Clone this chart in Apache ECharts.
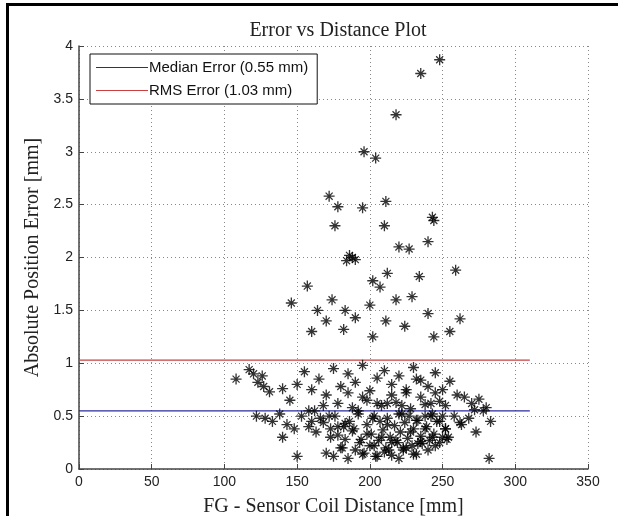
<!DOCTYPE html>
<html><head><meta charset="utf-8">
<script src="https://cdn.jsdelivr.net/npm/echarts@6/dist/echarts.min.js"></script>
<style>html,body{margin:0;padding:0;background:#fff}#c{width:618px;height:516px}</style>
</head><body><div id="c"></div>
<script>
const titleText = 'Error vs Distance Plot';
const xAxisName = 'FG - Sensor Coil Distance [mm]';
const yAxisName = 'Absolute Position Error [mm]';
const xTicks = [0, 350, 50];
const yTicks = [0, 4, 0.5];
const medianError = 0.55;
const rmsError = 1.03;
const lineXRange = [0, 310];
const distX = [248,235,218,196,204,172,211,178,195,176,243,244,210,259,220,227,240,186,190,184,188,234,212,202,207,157,146,218,174,200,229,164,183,240,262,170,190,211,224,160,182,244,255,202,
108,117,120,126,123,127,131,140,145,150,155,160,165,170,175,180,185,190,195,200,205,210,215,220,225,230,235,240,245,250,255,260,265,270,275,280,
122,128,133,138,143,148,153,158,163,168,173,178,183,188,193,198,203,208,213,218,223,228,233,238,243,248,253,258,263,268,273,278,283,
170,175,180,185,190,195,200,205,210,215,220,225,230,235,240,245,250,
168,178,188,198,208,218,228,238,248,
140,150,160,172,182,192,202,212,222,232,242,252,262,272,282,
186,189,192,194,196,198,201,203,204,206,207,209,211,212,214,215,217,219,220,221,223,224,226,227,229,230,232,233,235,236,238,239,241,243,244,246,248,250,252,254,
178,181,183,176,173,166,162,158,205,215,225,235,245,195,185,232,212,222,242,252];
const errY = [3.87,3.74,3.35,3.0,2.94,2.58,2.53,2.48,2.47,2.3,2.38,2.35,2.3,1.88,2.1,2.08,2.15,2.02,1.98,1.97,2.0,1.82,1.85,1.78,1.72,1.73,1.57,1.6,1.6,1.55,1.63,1.5,1.5,1.47,1.42,1.4,1.43,1.4,1.35,1.3,1.32,1.25,1.3,1.25,
0.85,0.94,0.9,0.88,0.82,0.78,0.73,0.76,0.65,0.8,0.92,0.75,0.85,0.7,0.95,0.78,0.9,0.82,0.98,0.74,0.86,0.93,0.8,0.88,0.72,0.96,0.84,0.78,0.91,0.75,0.83,0.7,0.68,0.62,0.66,0.58,
0.5,0.48,0.45,0.52,0.42,0.38,0.5,0.55,0.35,0.44,0.3,0.4,0.28,0.36,0.25,0.33,0.22,0.3,0.18,0.27,0.2,0.35,0.24,0.38,0.3,0.45,0.28,0.5,0.42,0.48,0.35,0.55,0.45,
0.15,0.12,0.2,0.1,0.18,0.14,0.22,0.12,0.16,0.25,0.1,0.2,0.14,0.26,0.18,0.22,0.3,
0.6,0.62,0.58,0.65,0.6,0.63,0.57,0.61,0.64,
0.3,0.12,0.45,0.5,0.4,0.55,0.48,0.42,0.52,0.46,0.5,0.38,0.44,0.56,0.1,
0.45,0.38,0.52,0.28,0.15,0.42,0.33,0.5,0.12,0.27,0.45,0.37,0.2,0.48,0.3,0.13,0.41,0.25,0.52,0.35,0.18,0.44,0.29,0.5,0.22,0.38,0.14,0.46,0.31,0.24,0.5,0.4,0.27,0.52,0.33,0.45,0.25,0.5,0.38,0.3,
0.32,0.2,0.43,0.5,0.38,0.48,0.55,0.4,0.62,0.7,0.75,0.68,0.72,0.68,0.72,0.85,0.62,0.6,0.62,0.6];

const chart = echarts.init(document.getElementById('c'), null, {renderer: 'canvas'});
const pts = distX.map((x, i) => [x, errY[i]]);
const starPath = 'path://M8.8,0L11.2,0L11.2,20L8.8,20ZM0,8.8L20,8.8L20,11.2L0,11.2ZM2.8,4.4L4.4,2.8L17.2,15.6L15.6,17.2ZM15.6,2.8L17.2,4.4L4.4,17.2L2.8,15.6Z';
const axisText = {fontFamily: 'Liberation Sans, Arial, sans-serif', fontSize: 14, color: '#222'};
const nameText = {fontFamily: 'Liberation Serif, Times New Roman, serif', fontSize: 20, color: '#222'};
chart.setOption({
  animation: false,
  backgroundColor: '#fff',
  title: {text: titleText, left: 333, top: 16, textAlign: 'center',
    textStyle: {fontFamily: 'Liberation Serif, Times New Roman, serif', fontSize: 20, fontWeight: 'normal', color: '#222'}},
  grid: {left: 79, right: 30, top: 46, bottom: 47, containLabel: false, outerBoundsMode: 'none'},
  legend: {left: 90, top: 54, orient: 'vertical', backgroundColor: '#fff', borderColor: '#111', borderWidth: 1,
    padding: [6, 9, 6, 6], itemGap: 8, itemWidth: 52, itemHeight: 1.2, icon: 'rect',
    textStyle: {fontFamily: 'Liberation Sans, Arial, sans-serif', fontSize: 15, color: '#111', padding: [0, 0, 0, -4]},
    data: ['Median Error (0.55 mm)', 'RMS Error (1.03 mm)']},
  xAxis: {type: 'value', min: xTicks[0], max: xTicks[1], interval: xTicks[2],
    name: xAxisName, nameLocation: 'middle', nameGap: 28, nameTextStyle: nameText,
    axisLine: {lineStyle: {color: '#444', width: 1.5}},
    axisTick: {inside: true, length: 5, lineStyle: {color: '#444'}},
    axisLabel: Object.assign({margin: 6}, axisText),
    splitLine: {show: true, lineStyle: {color: '#888', type: [1, 3], width: 1}}},
  yAxis: {type: 'value', min: yTicks[0], max: yTicks[1], interval: yTicks[2],
    name: yAxisName, nameLocation: 'middle', nameGap: 27, nameRotate: 90, nameTextStyle: nameText,
    axisLine: {lineStyle: {color: '#444', width: 1.5}},
    axisTick: {inside: true, length: 5, lineStyle: {color: '#444'}},
    axisLabel: Object.assign({margin: 6}, axisText),
    splitLine: {show: true, lineStyle: {color: '#888', type: [1, 3], width: 1}}},
  series: [
    {name: 'Median Error (0.55 mm)', type: 'line', symbol: 'none', z: 3,
      lineStyle: {color: '#2a2aa0', width: 1.2}, itemStyle: {color: '#2a2aa0'},
      data: lineXRange.map(x => [x, medianError])},
    {name: 'RMS Error (1.03 mm)', type: 'line', symbol: 'none', z: 3,
      lineStyle: {color: '#c84040', width: 1.2}, itemStyle: {color: '#c84040'},
      data: lineXRange.map(x => [x, rmsError])},
    {name: 'points', type: 'scatter', symbol: starPath, symbolSize: 11, z: 4,
      itemStyle: {color: '#000'}, data: pts}
  ],
  graphic: [
    {type: 'rect', shape: {x: 6, y: 3, width: 612, height: 3}, style: {fill: '#000'}},
    {type: 'rect', shape: {x: 6, y: 3, width: 3, height: 513}, style: {fill: '#000'}}
  ]
});
</script></body></html>
